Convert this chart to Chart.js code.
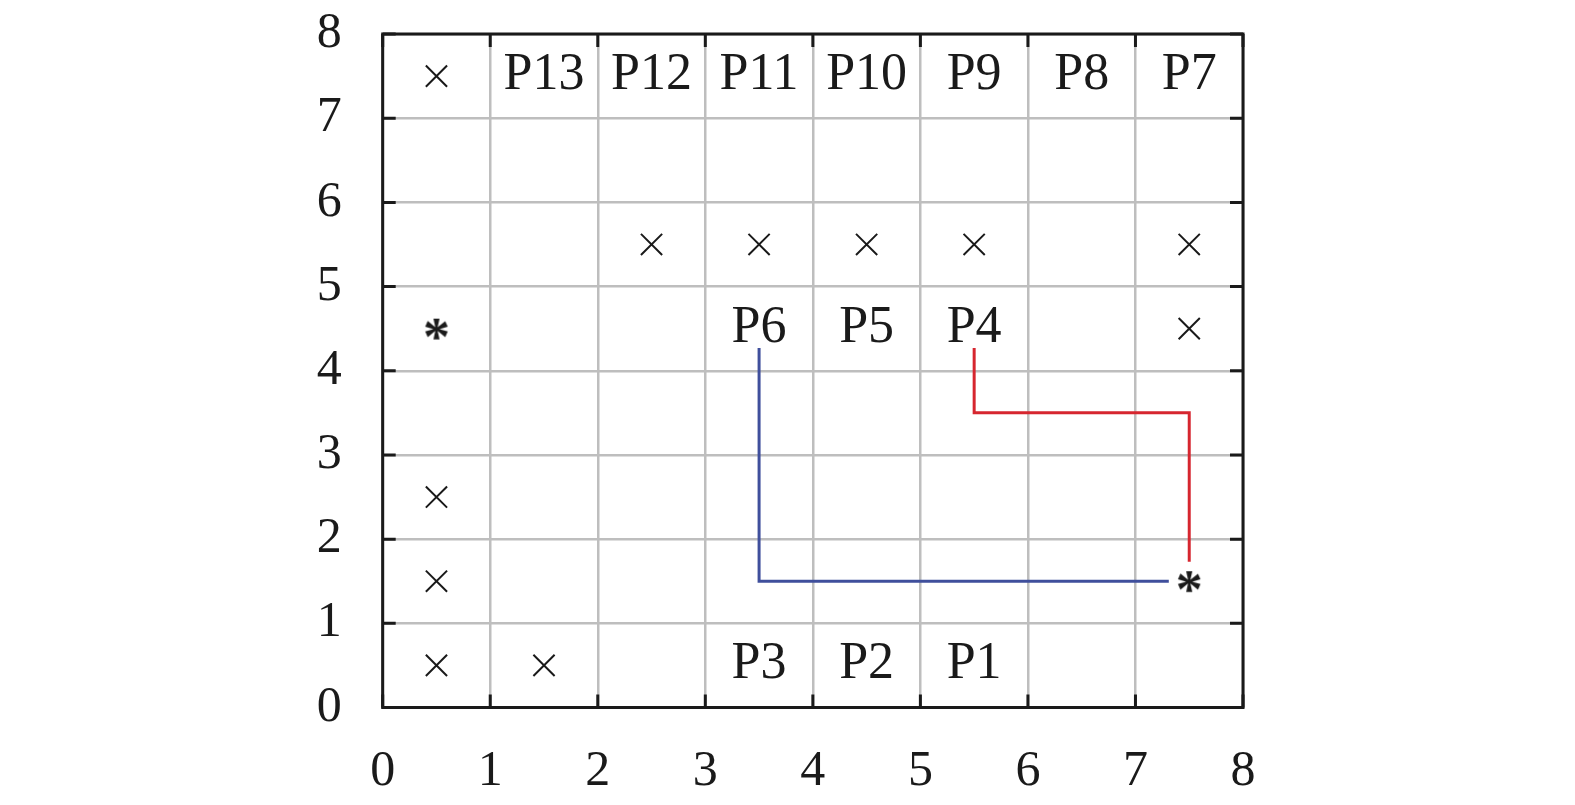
<!DOCTYPE html>
<html>
<head>
<meta charset="utf-8">
<script src="https://cdn.jsdelivr.net/npm/chart.js@4/dist/chart.umd.min.js"></script>
<style>
html,body{margin:0;padding:0;background:#fff;}
#wrap{width:1575px;height:805px;}
</style>
</head>
<body>
<div id="wrap"><canvas id="c" width="1575" height="805"></canvas></div>
<script>
// ---- data ----
const axisTicks = [0, 1, 2, 3, 4, 5, 6, 7, 8];
const cellLabels = ['P1', 'P2', 'P3', 'P4', 'P5', 'P6', 'P7', 'P8', 'P9', 'P10', 'P11', 'P12', 'P13'];
const cellLabelX = [5.5, 4.5, 3.5, 5.5, 4.5, 3.5, 7.5, 6.5, 5.5, 4.5, 3.5, 2.5, 1.5];
const cellLabelY = [0.5, 0.5, 0.5, 4.5, 4.5, 4.5, 7.5, 7.5, 7.5, 7.5, 7.5, 7.5, 7.5];
const crossX = [0.5, 2.5, 3.5, 4.5, 5.5, 7.5, 7.5, 0.5, 0.5, 0.5, 1.5];
const crossY = [7.5, 5.5, 5.5, 5.5, 5.5, 5.5, 4.5, 2.5, 1.5, 0.5, 0.5];
const starX = [0.5, 7.5];
const starY = [4.5, 1.5];
const redPathX = [5.5, 5.5, 7.5, 7.5];
const redPathY = [4.27, 3.5, 3.5, 1.73];
const bluePathX = [3.5, 3.5, 7.31];
const bluePathY = [4.27, 1.5, 1.5];

const FONT = "'Liberation Serif', 'DejaVu Serif', serif";
const INK = '#1a1a1a';

function pts(xs, ys) { return xs.map((v, i) => ({ x: v, y: ys[i] })); }

// asterisk glyph as point image
function makeStar() {
  const c = document.createElement('canvas');
  c.width = 48; c.height = 48;
  const g = c.getContext('2d');
  g.font = 'bold 54px ' + FONT;
  g.fillStyle = INK;
  const m = g.measureText('*');
  const w = m.actualBoundingBoxLeft + m.actualBoundingBoxRight;
  const h = m.actualBoundingBoxAscent + m.actualBoundingBoxDescent;
  const bx = 24 - w / 2 + m.actualBoundingBoxLeft;
  const by = 24 - h / 2 + m.actualBoundingBoxAscent;
  g.fillText('*', bx, by);
  return c;
}

const labelPlugin = {
  id: 'cellLabels',
  afterDatasetsDraw(chart) {
    const { ctx, scales: { x, y } } = chart;
    ctx.save();
    ctx.font = '52px ' + FONT;
    ctx.fillStyle = INK;
    ctx.textAlign = 'center';
    ctx.textBaseline = 'alphabetic';
    cellLabels.forEach((t, i) => {
      ctx.fillText(t, x.getPixelForValue(cellLabelX[i]), y.getPixelForValue(cellLabelY[i]) + 13);
    });
    ctx.restore();
  }
};

const framePlugin = {
  id: 'frame',
  afterDraw(chart) {
    const { ctx, chartArea: { left, right, top, bottom }, scales: { x, y } } = chart;
    ctx.save();
    ctx.strokeStyle = INK;
    ctx.lineWidth = 3;
    const L = 13;
    ctx.beginPath();
    axisTicks.forEach(v => {
      const px = x.getPixelForValue(v);
      ctx.moveTo(px, bottom); ctx.lineTo(px, bottom - L);
      ctx.moveTo(px, top); ctx.lineTo(px, top + L);
      const py = y.getPixelForValue(v);
      ctx.moveTo(left, py); ctx.lineTo(left + L, py);
      ctx.moveTo(right, py); ctx.lineTo(right - L, py);
    });
    ctx.stroke();
    ctx.lineJoin = 'miter';
    ctx.strokeRect(left, top, right - left, bottom - top);
    ctx.restore();
  }
};

new Chart(document.getElementById('c'), {
  type: 'scatter',
  data: {
    datasets: [
      { data: pts(redPathX, redPathY), showLine: true, borderColor: '#d6262f', borderWidth: 3, pointRadius: 0, tension: 0 },
      { data: pts(bluePathX, bluePathY), showLine: true, borderColor: '#3f4f9c', borderWidth: 3, pointRadius: 0, tension: 0 },
      { data: pts(crossX, crossY), pointStyle: 'crossRot', pointRadius: 15, borderColor: INK, borderWidth: 2 },
      { data: pts(starX, starY), pointStyle: makeStar(), pointRadius: 20 }
    ]
  },
  options: {
    responsive: false,
    animation: false,
    devicePixelRatio: 1,
    layout: { padding: { left: 0, right: 332, top: 34, bottom: 0 } },
    plugins: { legend: { display: false }, tooltip: { enabled: false } },
    scales: {
      x: {
        type: 'linear', min: 0, max: 8,
        afterBuildTicks(s) { s.ticks = axisTicks.map(v => ({ value: v })); },
        afterFit(s) { s.height = 97.5; s.paddingLeft = 0; s.paddingRight = 0; },
        grid: { color: '#bebebe', lineWidth: 2.5, drawTicks: false },
        border: { display: false },
        ticks: { color: INK, font: { family: FONT, size: 50 }, padding: 34, maxRotation: 0 }
      },
      y: {
        type: 'linear', min: 0, max: 8,
        afterBuildTicks(s) { s.ticks = axisTicks.map(v => ({ value: v })); },
        afterFit(s) { s.width = 382.7; s.paddingTop = 0; s.paddingBottom = 0; },
        grid: { color: '#bebebe', lineWidth: 2.5, drawTicks: false },
        border: { display: false },
        ticks: { color: INK, font: { family: FONT, size: 50 }, padding: 41 }
      }
    }
  },
  plugins: [labelPlugin, framePlugin]
});
</script>
</body>
</html>
